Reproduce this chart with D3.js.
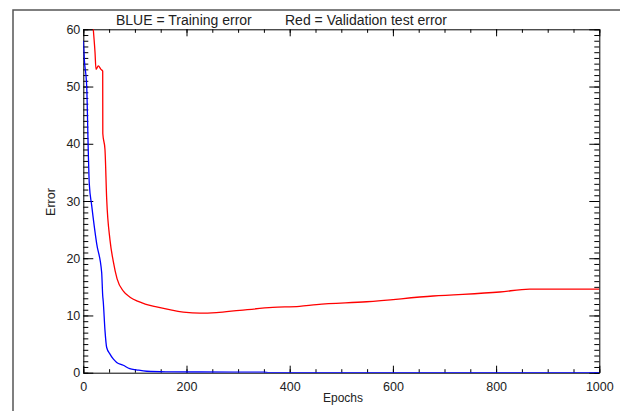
<!DOCTYPE html>
<html><head><meta charset="utf-8">
<script src="https://cdn.jsdelivr.net/npm/d3@7"></script>
<style>
html,body{margin:0;padding:0;background:#fff;}
svg{display:block;font-family:"Liberation Sans",Arial,sans-serif;}
</style></head>
<body>
<svg id="chart" width="620" height="411"></svg>
<script>
// Data: [epoch, error]
const trainingEpochs = [0, 2, 6.6, 9.7, 11.6, 16.3, 26, 35.6, 37.6, 38.7, 42, 45.3, 52, 58, 64.7, 77.5, 90, 103, 123, 160, 226, 350, 360, 1000];
const trainingError  = [58, 54.7, 50, 38.5, 33, 29.2, 22.5, 17.5, 13.5, 12.4, 7.4, 4.4, 3.2, 2.4, 1.8, 1.3, 0.7, 0.5, 0.25, 0.15, 0.12, 0.1, 0.0, 0.0];
const validationEpochs = [0, 10, 19.4, 22.7, 24.6, 29, 34.3, 37.6, 37.8, 42, 45.3, 51.7, 58, 65.5, 78, 90.5, 105, 120, 142, 193.7, 226, 258, 303.5, 367, 419, 452, 549, 678, 807, 865, 1000];
const validationError  = [90, 75, 60, 56, 53, 53.6, 53, 52.7, 41.8, 39, 30.4, 23.2, 19.5, 16.4, 14.2, 13.2, 12.5, 12.0, 11.5, 10.6, 10.4, 10.5, 10.9, 11.4, 11.6, 11.9, 12.4, 13.4, 14.1, 14.6, 14.6];
const xTicks = [0, 200, 400, 600, 800, 1000];
const yTicks = [0, 10, 20, 30, 40, 50, 60];
const titleLeft = "BLUE = Training error";
const titleRight = "Red = Validation test error";
const xLabel = "Epochs";
const yLabel = "Error";

const svg = d3.select("#chart");
const L = 83.3, R = 599.3, T = 29.3, B = 372.7;
const x = d3.scaleLinear().domain([0, 1000]).range([L, R]);
const y = d3.scaleLinear().domain([0, 60]).range([B, T]);

// outer frame
svg.append("path").attr("d", `M13,411 L13,10 L620,10`).attr("fill", "none")
  .attr("stroke", "#555").attr("stroke-width", 1.5);

// clip
svg.append("clipPath").attr("id", "clip").append("rect")
  .attr("x", L).attr("y", T).attr("width", R - L).attr("height", B - T);

const xMinor = d3.range(0, 1001, 50);
const yMinor = d3.range(0, 61, 1);

function styleAxis(g) {
  g.selectAll("path").attr("stroke", "#000");
  g.selectAll("line").attr("stroke", "#000");
  g.selectAll("text").attr("fill", "#222").style("font-size", "12.5px")
   .style("font-family", "'Liberation Sans',Arial,sans-serif");
}

// bottom
svg.append("g").attr("transform", `translate(0,${B})`)
  .call(d3.axisBottom(x).tickValues(xMinor).tickFormat("").tickSizeInner(-3.5).tickSizeOuter(0))
  .call(styleAxis).call(g => g.select(".domain").remove());
svg.append("g").attr("transform", `translate(0,${B})`)
  .call(d3.axisBottom(x).tickValues(xTicks).tickFormat(d3.format("d")).tickSizeInner(-7).tickSizeOuter(0).tickPadding(9))
  .call(styleAxis);
// top
svg.append("g").attr("transform", `translate(0,${T})`)
  .call(d3.axisTop(x).tickValues(xMinor).tickFormat("").tickSizeInner(-3.5).tickSizeOuter(0))
  .call(styleAxis).call(g => g.select(".domain").remove());
svg.append("g").attr("transform", `translate(0,${T})`)
  .call(d3.axisTop(x).tickValues(xTicks).tickFormat("").tickSizeInner(-7).tickSizeOuter(0))
  .call(styleAxis);
// left
svg.append("g").attr("transform", `translate(${L},0)`)
  .call(d3.axisLeft(y).tickValues(yMinor).tickFormat("").tickSizeInner(-5).tickSizeOuter(0))
  .call(styleAxis).call(g => g.select(".domain").remove());
svg.append("g").attr("transform", `translate(${L},0)`)
  .call(d3.axisLeft(y).tickValues(yTicks).tickFormat(d3.format("d")).tickSizeInner(-10).tickSizeOuter(0).tickPadding(3))
  .call(styleAxis);
// right
svg.append("g").attr("transform", `translate(${R},0)`)
  .call(d3.axisRight(y).tickValues(yMinor).tickFormat("").tickSizeInner(-5).tickSizeOuter(0))
  .call(styleAxis).call(g => g.select(".domain").remove());
svg.append("g").attr("transform", `translate(${R},0)`)
  .call(d3.axisRight(y).tickValues(yTicks).tickFormat("").tickSizeInner(-10).tickSizeOuter(0))
  .call(styleAxis);

// lines
const line = d3.line().curve(d3.curveMonotoneX).x(d => x(d[0])).y(d => y(d[1]));
const valData = validationEpochs.map((e, i) => [e, validationError[i]]);
const trnData = trainingEpochs.map((e, i) => [e, trainingError[i]]);
const lines = svg.append("g").attr("clip-path", "url(#clip)");
lines.append("path").datum(valData).attr("d", line).attr("fill", "none")
  .attr("stroke", "#ff0000").attr("stroke-width", 1.3);
lines.append("path").datum(trnData).attr("d", line).attr("fill", "none")
  .attr("stroke", "#0000ff").attr("stroke-width", 1.3);

// title
svg.append("text").attr("x", 116).attr("y", 24.5).attr("fill", "#222")
  .style("font-size", "14px").text(titleLeft);
svg.append("text").attr("x", 285).attr("y", 24.5).attr("fill", "#222")
  .style("font-size", "14px").text(titleRight);

// axis labels
svg.append("text").attr("x", 343).attr("y", 402).attr("text-anchor", "middle")
  .attr("fill", "#222").style("font-size", "12px").text(xLabel);
svg.append("text").attr("transform", "translate(55,202) rotate(-90)").attr("text-anchor", "middle")
  .attr("fill", "#222").style("font-size", "12.5px").text(yLabel);
</script>
</body></html>
